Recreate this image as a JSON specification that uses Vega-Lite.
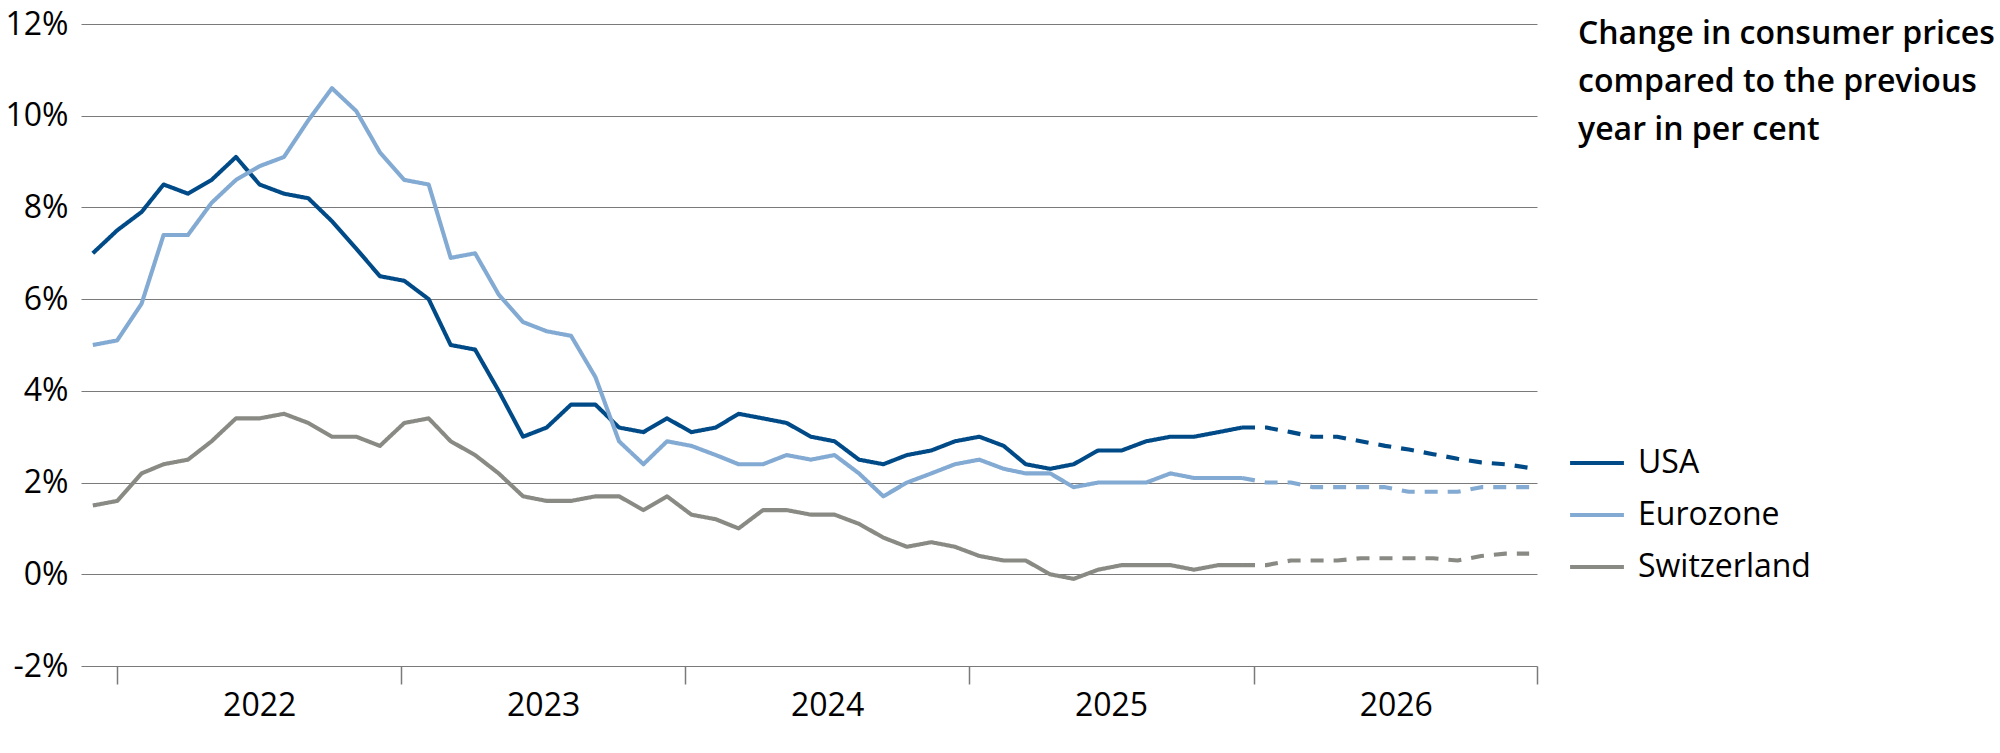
{
 "$schema": "https://vega.github.io/schema/vega-lite/v6.json",
 "width": 1456, "height": 642,
 "autosize": {"type": "none"},
 "padding": {"left": 81, "top": 24, "right": 463, "bottom": 87},
 "background": "white",
 "config": {"view": {"stroke": null}, "font": "Open Sans"},
 "data": {"values": [
  {"d":"2021-12-01","c":"USA","v":7.0,"t":"a"},
  {"d":"2022-01-01","c":"USA","v":7.5,"t":"a"},{"d":"2022-02-01","c":"USA","v":7.9,"t":"a"},{"d":"2022-03-01","c":"USA","v":8.5,"t":"a"},{"d":"2022-04-01","c":"USA","v":8.3,"t":"a"},{"d":"2022-05-01","c":"USA","v":8.6,"t":"a"},{"d":"2022-06-01","c":"USA","v":9.1,"t":"a"},{"d":"2022-07-01","c":"USA","v":8.5,"t":"a"},{"d":"2022-08-01","c":"USA","v":8.3,"t":"a"},{"d":"2022-09-01","c":"USA","v":8.2,"t":"a"},{"d":"2022-10-01","c":"USA","v":7.7,"t":"a"},{"d":"2022-11-01","c":"USA","v":7.1,"t":"a"},{"d":"2022-12-01","c":"USA","v":6.5,"t":"a"},
  {"d":"2023-01-01","c":"USA","v":6.4,"t":"a"},{"d":"2023-02-01","c":"USA","v":6.0,"t":"a"},{"d":"2023-03-01","c":"USA","v":5.0,"t":"a"},{"d":"2023-04-01","c":"USA","v":4.9,"t":"a"},{"d":"2023-05-01","c":"USA","v":4.0,"t":"a"},{"d":"2023-06-01","c":"USA","v":3.0,"t":"a"},{"d":"2023-07-01","c":"USA","v":3.2,"t":"a"},{"d":"2023-08-01","c":"USA","v":3.7,"t":"a"},{"d":"2023-09-01","c":"USA","v":3.7,"t":"a"},{"d":"2023-10-01","c":"USA","v":3.2,"t":"a"},{"d":"2023-11-01","c":"USA","v":3.1,"t":"a"},{"d":"2023-12-01","c":"USA","v":3.4,"t":"a"},
  {"d":"2024-01-01","c":"USA","v":3.1,"t":"a"},{"d":"2024-02-01","c":"USA","v":3.2,"t":"a"},{"d":"2024-03-01","c":"USA","v":3.5,"t":"a"},{"d":"2024-04-01","c":"USA","v":3.4,"t":"a"},{"d":"2024-05-01","c":"USA","v":3.3,"t":"a"},{"d":"2024-06-01","c":"USA","v":3.0,"t":"a"},{"d":"2024-07-01","c":"USA","v":2.9,"t":"a"},{"d":"2024-08-01","c":"USA","v":2.5,"t":"a"},{"d":"2024-09-01","c":"USA","v":2.4,"t":"a"},{"d":"2024-10-01","c":"USA","v":2.6,"t":"a"},{"d":"2024-11-01","c":"USA","v":2.7,"t":"a"},{"d":"2024-12-01","c":"USA","v":2.9,"t":"a"},
  {"d":"2025-01-01","c":"USA","v":3.0,"t":"a"},{"d":"2025-02-01","c":"USA","v":2.8,"t":"a"},{"d":"2025-03-01","c":"USA","v":2.4,"t":"a"},{"d":"2025-04-01","c":"USA","v":2.3,"t":"a"},{"d":"2025-05-01","c":"USA","v":2.4,"t":"a"},{"d":"2025-06-01","c":"USA","v":2.7,"t":"a"},{"d":"2025-07-01","c":"USA","v":2.7,"t":"a"},{"d":"2025-08-01","c":"USA","v":2.9,"t":"a"},{"d":"2025-09-01","c":"USA","v":3.0,"t":"a"},{"d":"2025-10-01","c":"USA","v":3.0,"t":"a"},{"d":"2025-11-01","c":"USA","v":3.1,"t":"a"},{"d":"2025-12-01","c":"USA","v":3.2,"t":"a"},
  {"d":"2025-12-01","c":"USA","v":3.2,"t":"f"},
  {"d":"2026-01-01","c":"USA","v":3.2,"t":"f"},{"d":"2026-02-01","c":"USA","v":3.1,"t":"f"},{"d":"2026-03-01","c":"USA","v":3.0,"t":"f"},{"d":"2026-04-01","c":"USA","v":3.0,"t":"f"},{"d":"2026-05-01","c":"USA","v":2.9,"t":"f"},{"d":"2026-06-01","c":"USA","v":2.8,"t":"f"},{"d":"2026-07-01","c":"USA","v":2.72,"t":"f"},{"d":"2026-08-01","c":"USA","v":2.62,"t":"f"},{"d":"2026-09-01","c":"USA","v":2.52,"t":"f"},{"d":"2026-10-01","c":"USA","v":2.44,"t":"f"},{"d":"2026-11-01","c":"USA","v":2.4,"t":"f"},{"d":"2026-12-01","c":"USA","v":2.32,"t":"f"},

  {"d":"2021-12-01","c":"Eurozone","v":5.0,"t":"a"},
  {"d":"2022-01-01","c":"Eurozone","v":5.1,"t":"a"},{"d":"2022-02-01","c":"Eurozone","v":5.9,"t":"a"},{"d":"2022-03-01","c":"Eurozone","v":7.4,"t":"a"},{"d":"2022-04-01","c":"Eurozone","v":7.4,"t":"a"},{"d":"2022-05-01","c":"Eurozone","v":8.1,"t":"a"},{"d":"2022-06-01","c":"Eurozone","v":8.6,"t":"a"},{"d":"2022-07-01","c":"Eurozone","v":8.9,"t":"a"},{"d":"2022-08-01","c":"Eurozone","v":9.1,"t":"a"},{"d":"2022-09-01","c":"Eurozone","v":9.9,"t":"a"},{"d":"2022-10-01","c":"Eurozone","v":10.6,"t":"a"},{"d":"2022-11-01","c":"Eurozone","v":10.1,"t":"a"},{"d":"2022-12-01","c":"Eurozone","v":9.2,"t":"a"},
  {"d":"2023-01-01","c":"Eurozone","v":8.6,"t":"a"},{"d":"2023-02-01","c":"Eurozone","v":8.5,"t":"a"},{"d":"2023-03-01","c":"Eurozone","v":6.9,"t":"a"},{"d":"2023-04-01","c":"Eurozone","v":7.0,"t":"a"},{"d":"2023-05-01","c":"Eurozone","v":6.1,"t":"a"},{"d":"2023-06-01","c":"Eurozone","v":5.5,"t":"a"},{"d":"2023-07-01","c":"Eurozone","v":5.3,"t":"a"},{"d":"2023-08-01","c":"Eurozone","v":5.2,"t":"a"},{"d":"2023-09-01","c":"Eurozone","v":4.3,"t":"a"},{"d":"2023-10-01","c":"Eurozone","v":2.9,"t":"a"},{"d":"2023-11-01","c":"Eurozone","v":2.4,"t":"a"},{"d":"2023-12-01","c":"Eurozone","v":2.9,"t":"a"},
  {"d":"2024-01-01","c":"Eurozone","v":2.8,"t":"a"},{"d":"2024-02-01","c":"Eurozone","v":2.6,"t":"a"},{"d":"2024-03-01","c":"Eurozone","v":2.4,"t":"a"},{"d":"2024-04-01","c":"Eurozone","v":2.4,"t":"a"},{"d":"2024-05-01","c":"Eurozone","v":2.6,"t":"a"},{"d":"2024-06-01","c":"Eurozone","v":2.5,"t":"a"},{"d":"2024-07-01","c":"Eurozone","v":2.6,"t":"a"},{"d":"2024-08-01","c":"Eurozone","v":2.2,"t":"a"},{"d":"2024-09-01","c":"Eurozone","v":1.7,"t":"a"},{"d":"2024-10-01","c":"Eurozone","v":2.0,"t":"a"},{"d":"2024-11-01","c":"Eurozone","v":2.2,"t":"a"},{"d":"2024-12-01","c":"Eurozone","v":2.4,"t":"a"},
  {"d":"2025-01-01","c":"Eurozone","v":2.5,"t":"a"},{"d":"2025-02-01","c":"Eurozone","v":2.3,"t":"a"},{"d":"2025-03-01","c":"Eurozone","v":2.2,"t":"a"},{"d":"2025-04-01","c":"Eurozone","v":2.2,"t":"a"},{"d":"2025-05-01","c":"Eurozone","v":1.9,"t":"a"},{"d":"2025-06-01","c":"Eurozone","v":2.0,"t":"a"},{"d":"2025-07-01","c":"Eurozone","v":2.0,"t":"a"},{"d":"2025-08-01","c":"Eurozone","v":2.0,"t":"a"},{"d":"2025-09-01","c":"Eurozone","v":2.2,"t":"a"},{"d":"2025-10-01","c":"Eurozone","v":2.1,"t":"a"},{"d":"2025-11-01","c":"Eurozone","v":2.1,"t":"a"},{"d":"2025-12-01","c":"Eurozone","v":2.1,"t":"a"},
  {"d":"2025-12-01","c":"Eurozone","v":2.1,"t":"f"},
  {"d":"2026-01-01","c":"Eurozone","v":2.0,"t":"f"},{"d":"2026-02-01","c":"Eurozone","v":2.0,"t":"f"},{"d":"2026-03-01","c":"Eurozone","v":1.9,"t":"f"},{"d":"2026-04-01","c":"Eurozone","v":1.9,"t":"f"},{"d":"2026-05-01","c":"Eurozone","v":1.9,"t":"f"},{"d":"2026-06-01","c":"Eurozone","v":1.9,"t":"f"},{"d":"2026-07-01","c":"Eurozone","v":1.8,"t":"f"},{"d":"2026-08-01","c":"Eurozone","v":1.8,"t":"f"},{"d":"2026-09-01","c":"Eurozone","v":1.8,"t":"f"},{"d":"2026-10-01","c":"Eurozone","v":1.9,"t":"f"},{"d":"2026-11-01","c":"Eurozone","v":1.9,"t":"f"},{"d":"2026-12-01","c":"Eurozone","v":1.9,"t":"f"},

  {"d":"2021-12-01","c":"Switzerland","v":1.5,"t":"a"},
  {"d":"2022-01-01","c":"Switzerland","v":1.6,"t":"a"},{"d":"2022-02-01","c":"Switzerland","v":2.2,"t":"a"},{"d":"2022-03-01","c":"Switzerland","v":2.4,"t":"a"},{"d":"2022-04-01","c":"Switzerland","v":2.5,"t":"a"},{"d":"2022-05-01","c":"Switzerland","v":2.9,"t":"a"},{"d":"2022-06-01","c":"Switzerland","v":3.4,"t":"a"},{"d":"2022-07-01","c":"Switzerland","v":3.4,"t":"a"},{"d":"2022-08-01","c":"Switzerland","v":3.5,"t":"a"},{"d":"2022-09-01","c":"Switzerland","v":3.3,"t":"a"},{"d":"2022-10-01","c":"Switzerland","v":3.0,"t":"a"},{"d":"2022-11-01","c":"Switzerland","v":3.0,"t":"a"},{"d":"2022-12-01","c":"Switzerland","v":2.8,"t":"a"},
  {"d":"2023-01-01","c":"Switzerland","v":3.3,"t":"a"},{"d":"2023-02-01","c":"Switzerland","v":3.4,"t":"a"},{"d":"2023-03-01","c":"Switzerland","v":2.9,"t":"a"},{"d":"2023-04-01","c":"Switzerland","v":2.6,"t":"a"},{"d":"2023-05-01","c":"Switzerland","v":2.2,"t":"a"},{"d":"2023-06-01","c":"Switzerland","v":1.7,"t":"a"},{"d":"2023-07-01","c":"Switzerland","v":1.6,"t":"a"},{"d":"2023-08-01","c":"Switzerland","v":1.6,"t":"a"},{"d":"2023-09-01","c":"Switzerland","v":1.7,"t":"a"},{"d":"2023-10-01","c":"Switzerland","v":1.7,"t":"a"},{"d":"2023-11-01","c":"Switzerland","v":1.4,"t":"a"},{"d":"2023-12-01","c":"Switzerland","v":1.7,"t":"a"},
  {"d":"2024-01-01","c":"Switzerland","v":1.3,"t":"a"},{"d":"2024-02-01","c":"Switzerland","v":1.2,"t":"a"},{"d":"2024-03-01","c":"Switzerland","v":1.0,"t":"a"},{"d":"2024-04-01","c":"Switzerland","v":1.4,"t":"a"},{"d":"2024-05-01","c":"Switzerland","v":1.4,"t":"a"},{"d":"2024-06-01","c":"Switzerland","v":1.3,"t":"a"},{"d":"2024-07-01","c":"Switzerland","v":1.3,"t":"a"},{"d":"2024-08-01","c":"Switzerland","v":1.1,"t":"a"},{"d":"2024-09-01","c":"Switzerland","v":0.8,"t":"a"},{"d":"2024-10-01","c":"Switzerland","v":0.6,"t":"a"},{"d":"2024-11-01","c":"Switzerland","v":0.7,"t":"a"},{"d":"2024-12-01","c":"Switzerland","v":0.6,"t":"a"},
  {"d":"2025-01-01","c":"Switzerland","v":0.4,"t":"a"},{"d":"2025-02-01","c":"Switzerland","v":0.3,"t":"a"},{"d":"2025-03-01","c":"Switzerland","v":0.3,"t":"a"},{"d":"2025-04-01","c":"Switzerland","v":0.0,"t":"a"},{"d":"2025-05-01","c":"Switzerland","v":-0.1,"t":"a"},{"d":"2025-06-01","c":"Switzerland","v":0.1,"t":"a"},{"d":"2025-07-01","c":"Switzerland","v":0.2,"t":"a"},{"d":"2025-08-01","c":"Switzerland","v":0.2,"t":"a"},{"d":"2025-09-01","c":"Switzerland","v":0.2,"t":"a"},{"d":"2025-10-01","c":"Switzerland","v":0.1,"t":"a"},{"d":"2025-11-01","c":"Switzerland","v":0.2,"t":"a"},{"d":"2025-12-01","c":"Switzerland","v":0.2,"t":"a"},
  {"d":"2025-12-01","c":"Switzerland","v":0.2,"t":"f"},
  {"d":"2026-01-01","c":"Switzerland","v":0.2,"t":"f"},{"d":"2026-02-01","c":"Switzerland","v":0.3,"t":"f"},{"d":"2026-03-01","c":"Switzerland","v":0.3,"t":"f"},{"d":"2026-04-01","c":"Switzerland","v":0.3,"t":"f"},{"d":"2026-05-01","c":"Switzerland","v":0.35,"t":"f"},{"d":"2026-06-01","c":"Switzerland","v":0.35,"t":"f"},{"d":"2026-07-01","c":"Switzerland","v":0.35,"t":"f"},{"d":"2026-08-01","c":"Switzerland","v":0.35,"t":"f"},{"d":"2026-09-01","c":"Switzerland","v":0.3,"t":"f"},{"d":"2026-10-01","c":"Switzerland","v":0.4,"t":"f"},{"d":"2026-11-01","c":"Switzerland","v":0.45,"t":"f"},{"d":"2026-12-01","c":"Switzerland","v":0.45,"t":"f"}
 ]},
 "mark": {"type": "line", "strokeWidth": 4.1, "strokeJoin": "round", "strokeCap": "butt"},
 "encoding": {
  "x": {
   "field": "d", "type": "temporal",
   "scale": {"type": "utc", "domain": [{"year": 2021, "month": 11, "date": 16, "utc": true}, {"year": 2026, "month": 12, "date": 11, "utc": true}]},
   "axis": {
    "title": null,
    "values": [{"year": 2022, "month": 1, "date": 1, "utc": true}, {"year": 2022, "month": 12, "date": 28, "utc": true}, {"year": 2023, "month": 12, "date": 24, "utc": true}, {"year": 2024, "month": 12, "date": 19, "utc": true}, {"year": 2025, "month": 12, "date": 16, "utc": true}, {"year": 2026, "month": 12, "date": 11, "utc": true}],
    "labelExpr": "utcyear(datum.value + 25*864e5) > 2026 ? '' : utcFormat(datum.value + 25*864e5, '%Y')",
    "labelOffset": 142, "labelFlush": false, "labelOverlap": false, "labelBound": false,
    "grid": false, "domain": false, "ticks": true, "tickSize": 18, "tickColor": "#7a7a7a", "tickWidth": 1.5,
    "labelFontSize": 32, "labelColor": "black", "labelPadding": 6, "labelFont": "Open Sans"
   }
  },
  "y": {
   "field": "v", "type": "quantitative",
   "scale": {"domain": [-2, 12], "nice": false},
   "axis": {
    "title": null, "values": [-2, 0, 2, 4, 6, 8, 10, 12],
    "labelExpr": "datum.value + '%'",
    "domain": false, "ticks": false, "grid": true, "gridColor": "#7a7a7a", "gridWidth": 1,
    "labelFontSize": 32, "labelColor": "black", "labelPadding": 13, "labelFont": "Open Sans"
   }
  },
  "color": {
   "field": "c", "type": "nominal",
   "scale": {"domain": ["USA", "Eurozone", "Switzerland"], "range": ["#004b87", "#82aad2", "#8a8a85"]},
   "legend": {
    "title": ["Change in consumer prices", "compared to the previous", "year in per cent"],
    "orient": "none", "legendX": 1497, "legendY": -5, "direction": "vertical",
    "symbolType": "stroke", "symbolStrokeWidth": 4, "symbolSize": 2900, "symbolOffset": -10,
    "labelFontSize": 32, "labelColor": "black", "labelFont": "Open Sans", "labelOffset": 12, "labelLimit": 400,
    "titleFontSize": 32, "titleFontWeight": 600, "titleColor": "black", "titleFont": "Open Sans", "titleLineHeight": 48, "titlePadding": 287, "titleLimit": 600,
    "rowPadding": 7
   }
  },
  "strokeDash": {
   "field": "t", "type": "nominal",
   "scale": {"domain": ["a", "f"], "range": [[1, 0], [13, 10]]},
   "legend": null
  }
 }
}
